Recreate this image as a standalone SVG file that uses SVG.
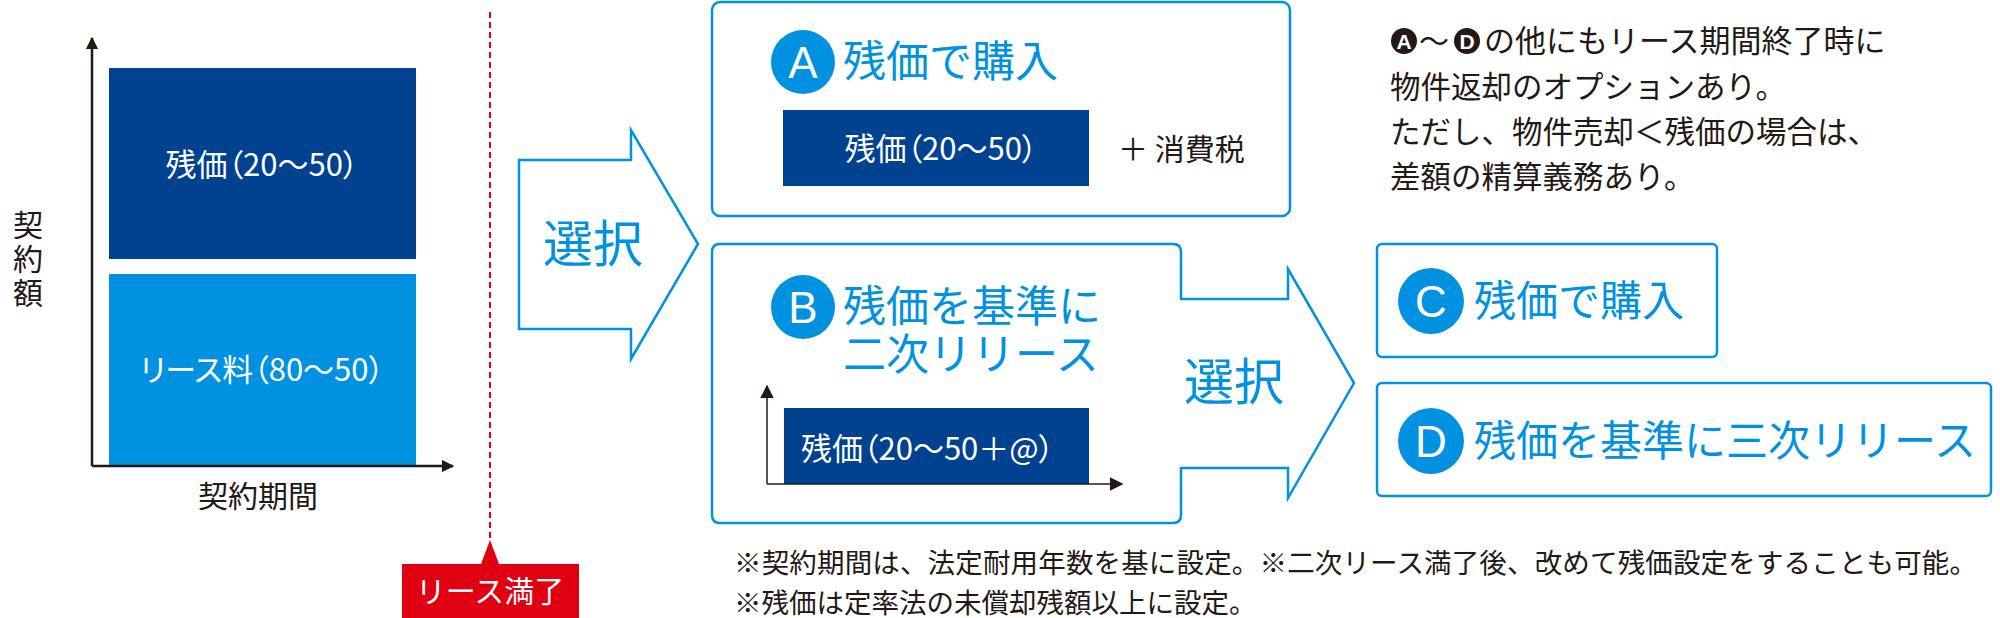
<svg xmlns="http://www.w3.org/2000/svg" width="2000" height="618" viewBox="0 0 2000 618">
<style>
text{font-family:"Noto Sans CJK JP","Noto Sans",sans-serif;}
.w{fill:#fff}.k{fill:#231815}.b{fill:#0092e0}
.p{font-feature-settings:"palt"}
.box{fill:#fff;stroke:#0092e0;stroke-width:2.5}
.dk{fill:#004190}
.ax{stroke:#231815;stroke-width:2.5;fill:none}
</style>
<defs>
<marker id="ah" viewBox="0 0 10 10" refX="9" refY="5" markerWidth="5" markerHeight="5" orient="auto"><path d="M0,0L10,5L0,10z" fill="#231815"/></marker>
<marker id="ah2" viewBox="0 0 10 10" refX="9" refY="5" markerWidth="9" markerHeight="9" orient="auto"><path d="M0,0L10,5L0,10z" fill="#231815"/></marker>
</defs>
<g id="chart">
<rect class="dk" x="109" y="68" width="307" height="191"/>
<rect x="109" y="274" width="307" height="191" fill="#0092e0"/>
<text class="w p" x="262" y="176" font-size="31" text-anchor="middle">残価（20～50）</text>
<text class="w p" x="262" y="381" font-size="31" text-anchor="middle">リース料（80～50）</text>
<text class="k" x="28" y="236" font-size="30" text-anchor="middle">契</text>
<text class="k" x="28" y="270" font-size="30" text-anchor="middle">約</text>
<text class="k" x="28" y="304" font-size="30" text-anchor="middle">額</text>
<text class="k" x="258" y="507" font-size="30" text-anchor="middle">契約期間</text>
</g>
<g id="expiry">
<path d="M481,564L490,540L499,564z" fill="#e00012"/>
<rect x="402" y="564" width="177" height="54" fill="#e00012"/>
<text class="w" x="490" y="602" font-size="30" text-anchor="middle">リース満了</text>
</g>
<g id="arrow1">
<path class="box" d="M519,160H631V130L698,244L631,359V329H519z"/>
<text class="b" x="593" y="262" font-size="50" text-anchor="middle">選択</text>
</g>
<g id="boxA">
<rect class="box" x="712" y="2" width="578" height="214" rx="8"/>
<circle cx="803" cy="62" r="32" fill="#0092e0"/>
<text class="w" x="803" y="78" font-size="44" text-anchor="middle" style="font-family:'Liberation Sans',sans-serif">A</text>
<text class="b" x="843" y="77" font-size="43">残価で購入</text>
<rect class="dk" x="783" y="110" width="306" height="76"/>
<text class="w p" x="941" y="160" font-size="31" text-anchor="middle">残価（20～50）</text>
<text class="k" x="1118" y="160" font-size="30">＋ 消費税</text>
</g>
<g id="boxB">
<path class="box" d="M720,244H1173Q1181,244 1181,252V299H1288V269L1354,383L1288,498V468H1181V515Q1181,523 1173,523H720Q712,523 712,515V252Q712,244 720,244z"/>
<circle cx="803" cy="307" r="32" fill="#0092e0"/>
<text class="w" x="803" y="323" font-size="44" text-anchor="middle" style="font-family:'Liberation Sans',sans-serif">B</text>
<text class="b" x="843" y="322" font-size="43">残価を基準に</text>
<text class="b" x="843" y="370" font-size="43">二次リリース</text>
<rect class="dk" x="784" y="408" width="305" height="76"/>
<text class="w p" x="801" y="460" font-size="31">残価（20～50＋@）</text>
<text class="b" x="1234" y="400" font-size="50" text-anchor="middle">選択</text>
</g>
<g id="boxC">
<rect class="box" x="1377" y="244" width="340" height="113" rx="5"/>
<circle cx="1431" cy="301" r="33" fill="#0092e0"/>
<text class="w" x="1431" y="317" font-size="44" text-anchor="middle" style="font-family:'Liberation Sans',sans-serif">C</text>
<text class="b" x="1474" y="316" font-size="42">残価で購入</text>
</g>
<g id="boxD">
<rect class="box" x="1377" y="383" width="614" height="113" rx="5"/>
<circle cx="1431" cy="441" r="33" fill="#0092e0"/>
<text class="w" x="1431" y="457" font-size="44" text-anchor="middle" style="font-family:'Liberation Sans',sans-serif">D</text>
<text class="b" x="1474" y="456" font-size="42">残価を基準に三次リリース</text>
</g>
<g id="connectors">
<path class="ax" d="M92,466V38" marker-end="url(#ah)"/>
<path class="ax" d="M92,466H453" marker-end="url(#ah)"/>
<path d="M490,12V540" stroke="#e00012" stroke-width="2" stroke-dasharray="6,4"/>
<path class="ax" style="stroke-width:1.5" d="M767,484V386" marker-end="url(#ah2)"/>
<path class="ax" style="stroke-width:1.5" d="M767,484H1122" marker-end="url(#ah2)"/>
</g>
<g id="note">
<circle cx="1404" cy="41" r="13" fill="#231815"/>
<text class="w" x="1404" y="49" font-size="21" font-weight="bold" text-anchor="middle" style="font-family:'Liberation Sans',sans-serif">A</text>
<text class="k" x="1419" y="52" font-size="30">～</text>
<circle cx="1467" cy="41" r="13" fill="#231815"/>
<text class="w" x="1467" y="49" font-size="21" font-weight="bold" text-anchor="middle" style="font-family:'Liberation Sans',sans-serif">D</text>
<text class="k" x="1484" y="52" font-size="31">の他にもリース期間終了時に</text>
<text class="k" x="1390" y="98" font-size="30.5">物件返却のオプションあり。</text>
<text class="k" x="1390" y="143" font-size="30.5">ただし、物件売却＜残価の場合は、</text>
<text class="k" x="1390" y="188" font-size="30.5">差額の精算義務あり。</text>
</g>
<g id="footnotes">
<text class="k" x="734" y="573" font-size="27.5" textLength="1243">※契約期間は、法定耐用年数を基に設定。※二次リース満了後、改めて残価設定をすることも可能。</text>
<text class="k" x="734" y="613" font-size="27.5">※残価は定率法の未償却残額以上に設定。</text>
</g>
</svg>
